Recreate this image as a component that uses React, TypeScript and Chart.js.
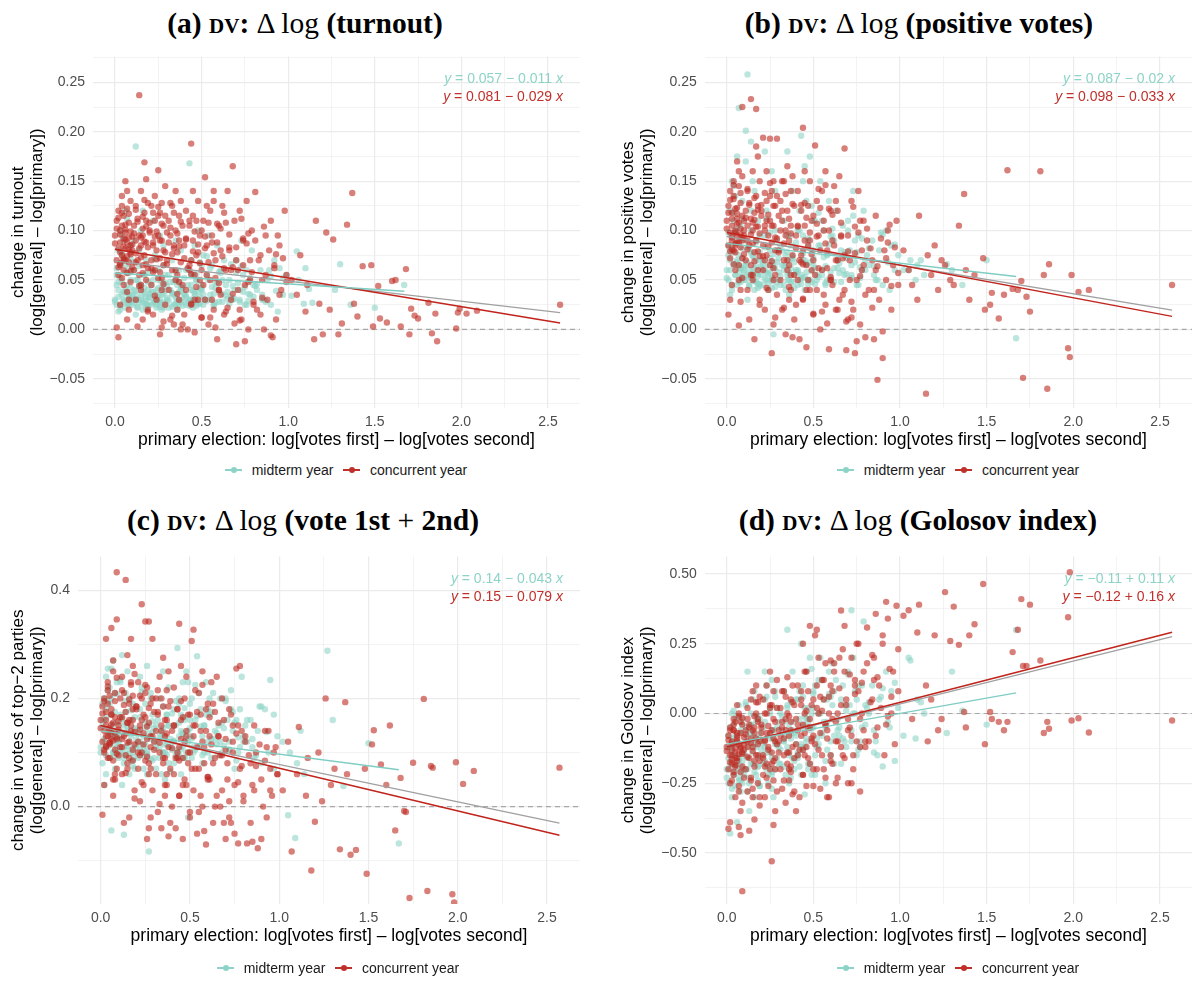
import React, { useEffect, useRef } from "react";
import { Chart, registerables } from "chart.js";

Chart.register(...registerables);

// ---------------- data ----------------
// x: primary election margin, log[votes first] - log[votes second]
const concurrentX = [
  0.00,0.01,0.01,0.02,0.02,0.02,0.03,0.03,0.03,0.04,
  0.04,0.04,0.05,0.05,0.05,0.05,0.06,0.06,0.06,0.06,
  0.07,0.07,0.07,0.07,0.08,0.08,0.08,0.08,0.09,0.09,
  0.09,0.09,0.01,0.02,0.03,0.04,0.05,0.07,0.08,0.10,
  0.10,0.11,0.11,0.12,0.12,0.12,0.13,0.13,0.14,0.14,
  0.14,0.15,0.15,0.15,0.16,0.16,0.16,0.17,0.17,0.17,
  0.18,0.18,0.18,0.19,0.19,0.19,0.20,0.13,0.15,0.18,
  0.20,0.21,0.21,0.21,0.22,0.22,0.23,0.23,0.23,0.24,
  0.24,0.25,0.25,0.25,0.26,0.26,0.26,0.27,0.27,0.27,
  0.28,0.28,0.28,0.29,0.29,0.29,0.30,0.22,0.25,0.27,
  0.30,0.31,0.31,0.32,0.32,0.33,0.33,0.34,0.34,0.35,
  0.35,0.35,0.36,0.36,0.37,0.37,0.37,0.38,0.38,0.38,
  0.39,0.39,0.40,0.34,0.36,
  0.40,0.41,0.41,0.42,0.43,0.43,0.44,0.44,0.45,0.45,
  0.46,0.46,0.47,0.47,0.48,0.48,0.49,0.49,0.50,0.44,
  0.50,0.51,0.52,0.52,0.53,0.54,0.55,0.55,0.56,0.57,
  0.57,0.58,0.59,0.60,0.60,0.61,0.62,0.63,0.64,0.65,
  0.66,0.67,0.68,0.69,0.70,0.71,0.72,0.73,0.74,0.75,
  0.76,0.77,0.78,0.79,0.80,
  0.81,0.82,0.84,0.85,0.86,0.87,0.88,0.90,0.91,0.92,
  0.93,0.95,0.96,0.98,0.99,
  1.02,1.05,1.07,1.10,1.11,1.15,1.16,1.18,1.20,1.22,
  1.24,1.26,1.29,1.31,1.34,1.37,1.38,1.40,1.43,1.48,
  1.49,1.52,1.53,1.57,1.60,1.62,1.65,1.68,1.70,1.71,
  1.73,1.75,1.81,1.83,1.85,1.86,1.97,1.98,1.99,2.03,
  2.09,2.57,
  0.00,0.01,0.02,0.02,0.03,0.03,0.04,0.04,0.05,0.05,
  0.06,0.06,0.07,0.07,0.08,0.08,0.09,0.09,0.10,0.03,
  0.06,0.09,0.10,0.11,0.12,0.12,0.13,0.14,0.14,0.15,
  0.15,0.16,0.16,0.17,0.17,0.18,0.18,0.19,0.19,0.20,
  0.12,0.16,0.21,0.22,0.22,0.23,0.24,0.24,0.25,0.26,
  0.26,0.27,0.28,0.28,0.29,0.30,0.23,0.27,0.31,0.32,
  0.33,0.33,0.34,0.35,0.36,0.36,0.37,0.38,0.39,0.40,
  0.32,0.37,0.41,0.42,0.43,0.44,0.45,0.46,0.47,0.48,
  0.49,0.50,0.52,0.53,0.54,0.56,0.57,0.58,0.59,0.60,
  0.61,0.63,0.64,0.66,0.68,0.70,0.72,0.74,0.77,0.79,
  0.41,0.43,0.45,0.46,0.48,0.50,0.51,0.53,0.54,0.55,
  0.56,0.58,0.59,0.61,0.62,0.63,0.65,0.66,0.67,0.69,
  0.70,0.71,0.73,0.74,0.75,0.77,0.78,0.80,0.81,0.83,
  0.84,0.86,0.87,0.89,0.90,0.92,0.94,0.95,0.97,0.99,
  0.44,0.52,0.57,0.60,0.64,0.68,0.72,0.76,0.85,0.93,
];

const concurrentTurnout = [
  0.095,0.110,0.070,0.082,0.120,0.055,0.100,0.065,0.088,0.135,
  0.075,0.105,0.045,0.092,0.115,0.060,0.082,0.098,0.150,0.070,
  0.010,0.088,0.122,0.057,0.093,0.068,0.108,0.030,0.078,0.099,
  0.048,0.085,0.002,-0.008,0.025,0.118,0.072,0.140,0.020,0.063,
  0.080,0.105,0.060,0.125,0.090,0.030,0.070,0.112,0.237,0.055,
  0.095,0.140,0.040,0.085,0.010,0.102,0.065,0.118,0.075,0.169,
  0.050,0.152,0.088,0.020,0.128,0.062,0.098,0.003,0.045,0.110,
  0.100,0.070,0.125,0.045,0.088,0.015,0.110,0.060,0.135,0.080,
  0.030,0.095,0.161,0.052,0.072,0.118,-0.005,0.090,0.040,0.128,
  0.065,0.105,0.008,0.145,0.078,0.025,0.098,0.058,0.115,0.002,
  0.070,0.110,0.040,0.095,0.010,0.125,0.060,0.085,0.005,0.140,
  0.050,0.100,0.020,0.078,0.115,0.030,0.090,0.000,0.068,0.130,
  0.045,0.105,0.015,0.082,0.055,
  0.085,0.040,0.120,0.000,0.065,0.105,0.188,0.025,0.090,0.140,
  0.055,-0.003,0.110,0.075,0.030,0.130,0.050,0.095,0.012,0.070,
  0.060,0.110,0.154,0.030,0.085,0.005,0.120,0.050,0.095,0.020,
  0.140,0.070,-0.010,0.105,0.040,0.080,0.125,0.015,0.060,0.140,
  0.080,0.030,0.165,0.110,-0.015,0.060,0.120,0.010,0.090,0.045,
  0.130,0.000,0.070,0.100,0.025,
  0.139,0.020,0.075,0.050,0.000,0.095,0.030,0.110,-0.008,0.065,
  0.010,0.085,0.040,0.120,0.055,
  0.050,0.035,0.075,0.018,0.045,-0.010,0.110,0.026,-0.005,0.098,
  0.020,0.091,-0.005,0.006,0.106,0.138,0.026,0.013,0.064,0.065,
  0.003,0.044,0.011,0.007,0.049,0.050,0.003,0.061,-0.005,0.021,
  0.014,0.011,0.027,-0.004,0.016,-0.012,0.001,0.017,0.021,0.016,
  0.019,0.025,
  0.087,0.102,0.063,0.113,0.078,0.096,0.052,0.125,0.084,0.070,
  0.091,0.106,0.074,0.038,0.117,0.081,0.059,0.130,0.094,0.067,
  0.101,0.076,0.086,0.097,0.068,0.121,0.109,0.082,0.044,0.093,
  0.073,0.114,0.057,0.089,0.131,0.066,0.104,0.018,0.083,0.108,
  0.077,0.095,0.062,0.118,0.085,0.034,0.099,0.071,0.124,0.058,
  0.090,0.107,0.046,0.080,0.115,0.066,0.094,0.052,0.088,0.103,
  0.014,0.076,0.118,0.060,0.097,0.036,0.084,0.109,0.005,0.072,
  0.128,0.048,0.091,0.062,0.110,0.026,0.079,0.099,0.043,0.086,
  0.067,0.012,0.094,0.055,0.108,0.030,0.077,0.002,0.088,0.047,
  0.102,0.062,0.018,0.083,0.036,0.070,0.009,0.092,0.048,0.058,
  0.092,0.060,0.115,0.030,0.078,0.100,0.045,0.125,0.068,0.012,
  0.088,0.052,0.107,0.035,0.074,0.118,0.022,0.096,0.060,0.006,
  0.083,0.040,0.112,0.065,-0.012,0.097,0.050,0.028,0.090,0.070,
  0.015,0.104,0.055,0.080,-0.006,0.062,0.095,0.035,0.072,0.048,
  0.056,0.082,0.130,0.040,0.108,0.063,0.020,0.087,0.032,0.076,
];

const concurrentPositive = [
  0.110,0.125,0.085,0.098,0.140,0.072,0.118,0.090,0.105,0.150,
  0.080,0.132,0.060,0.100,0.122,0.078,0.095,0.112,0.170,0.088,
  0.004,0.108,0.145,0.065,0.102,0.083,0.128,0.040,0.093,0.115,
  0.052,0.225,0.015,0.030,0.045,0.135,0.087,0.160,0.028,0.076,
  0.095,0.120,0.070,0.140,0.105,0.040,0.085,0.128,0.233,0.065,
  0.112,0.160,0.050,0.100,-0.010,0.118,0.078,0.135,0.090,0.223,
  0.060,0.175,0.104,0.030,0.150,0.074,0.115,0.010,0.055,0.125,
  0.120,0.085,0.194,0.060,0.105,0.020,0.130,0.075,0.160,0.095,
  0.040,0.110,0.193,0.065,0.088,0.140,-0.024,0.105,0.050,0.150,
  0.080,0.125,0.012,0.193,0.092,0.035,0.115,0.070,0.135,0.005,
  0.080,0.130,0.050,0.110,0.020,0.150,0.070,0.100,-0.005,0.165,
  0.060,0.120,0.030,0.090,0.140,0.040,0.105,-0.008,0.075,0.155,
  0.055,0.125,0.025,0.095,0.065,
  0.095,0.050,0.140,-0.010,0.075,0.120,0.204,0.030,0.105,0.160,
  0.065,-0.018,0.125,0.085,0.040,0.150,0.060,0.110,0.015,0.080,
  0.070,0.186,0.130,0.040,0.095,0.000,0.140,0.060,0.110,0.025,
  0.160,0.080,-0.020,0.120,0.050,0.090,0.145,0.020,0.070,0.155,
  0.095,0.035,0.183,-0.021,0.010,0.070,0.130,0.020,-0.024,0.050,
  0.140,0.005,0.080,0.110,-0.008,
  0.090,0.040,0.070,-0.010,0.060,-0.051,0.030,-0.029,0.080,0.050,
  0.100,0.020,0.065,0.110,0.045,
  0.080,0.060,0.045,0.030,0.115,-0.065,0.075,0.055,0.085,0.040,
  0.070,0.065,0.050,0.045,0.105,0.137,0.060,0.030,0.055,0.072,
  0.020,0.025,0.037,0.011,0.035,0.161,0.041,0.040,0.049,-0.049,
  0.033,0.018,0.160,0.055,-0.060,0.066,-0.019,-0.028,0.055,0.038,
  0.040,0.045,
  0.102,0.118,0.079,0.131,0.093,0.112,0.066,0.146,0.098,0.085,
  0.107,0.123,0.088,0.050,0.138,0.096,0.072,0.155,0.110,0.081,
  0.117,0.090,0.100,0.113,0.081,0.142,0.126,0.096,0.055,0.108,
  0.087,0.133,0.069,0.104,0.185,0.079,0.121,0.025,0.097,0.126,
  0.090,0.111,0.074,0.138,0.100,0.042,0.116,0.084,0.148,0.069,
  0.105,0.125,0.055,0.093,0.135,0.078,0.110,0.062,0.100,0.120,
  0.022,0.087,0.137,0.070,0.112,0.043,0.097,0.127,0.010,0.082,
  0.150,0.055,0.104,0.070,0.126,0.031,0.090,0.113,0.050,0.098,
  0.076,0.016,0.107,0.062,0.123,0.035,0.087,0.006,0.100,0.053,
  0.116,0.070,0.020,0.094,0.040,0.079,0.012,0.104,0.054,0.065,
  0.105,0.068,0.128,0.040,0.090,0.115,0.055,0.142,0.080,0.018,
  0.100,0.062,0.122,0.045,0.085,0.130,0.030,0.108,0.072,0.008,
  0.095,0.050,0.124,0.077,-0.012,0.110,0.060,0.035,0.102,0.082,
  0.022,0.115,0.064,0.092,-0.002,0.072,0.106,0.044,0.083,0.057,
  0.066,0.094,0.146,0.050,0.120,0.075,0.028,0.098,0.040,0.088,
];

const concurrentTop2 = [
  0.160,0.185,0.120,0.140,0.200,0.100,0.175,0.110,0.150,0.230,
  0.130,0.190,0.090,0.145,0.205,0.115,0.135,0.170,0.330,0.125,
  0.020,0.155,0.250,0.085,0.165,0.105,0.195,0.060,0.128,0.433,
  0.070,0.346,-0.015,0.040,0.310,0.215,0.118,0.270,0.050,0.095,
  0.150,0.200,0.110,0.240,0.165,0.060,0.130,0.210,0.419,0.095,
  0.175,0.280,0.070,0.155,-0.020,0.190,0.120,0.225,0.140,0.310,
  0.085,0.260,0.160,0.030,0.245,0.115,0.185,-0.030,0.080,0.205,
  0.180,0.120,0.230,0.070,0.150,0.010,0.200,0.100,0.374,0.135,
  0.040,0.165,0.342,0.085,0.125,0.220,-0.060,0.155,0.060,0.342,
  0.110,0.190,-0.020,0.310,0.130,0.030,0.175,0.095,0.210,-0.040,
  0.120,0.200,0.060,0.170,-0.010,0.240,0.100,0.150,-0.040,0.275,
  0.080,0.185,0.020,0.130,0.215,0.040,0.160,-0.055,0.110,0.250,
  0.070,0.195,0.000,0.140,0.090,
  0.140,0.060,0.220,-0.040,0.100,0.180,0.338,0.020,0.160,0.260,
  0.090,-0.060,0.200,0.120,0.040,0.240,0.080,0.170,-0.010,0.110,
  0.100,0.306,0.327,0.030,0.150,-0.050,0.210,0.070,0.170,0.000,
  0.250,0.110,-0.070,0.190,0.050,0.130,0.230,-0.030,0.090,0.240,
  0.130,0.000,0.200,0.160,-0.060,0.080,0.180,-0.030,0.120,0.040,
  0.255,-0.068,0.260,0.140,0.010,
  0.120,-0.068,0.080,-0.065,0.030,0.100,-0.077,0.050,0.000,0.140,
  -0.020,0.070,0.020,0.110,0.060,
  0.030,0.120,-0.083,0.060,0.147,0.020,0.090,-0.118,-0.028,0.100,
  0.010,0.200,0.040,0.070,-0.079,0.193,0.060,-0.089,-0.080,0.070,
  -0.124,0.115,0.141,0.078,0.040,0.150,-0.044,0.053,-0.008,-0.010,
  -0.169,0.081,0.199,-0.156,0.075,0.072,-0.162,-0.177,0.082,0.042,
  0.066,0.072,
  0.145,0.172,0.105,0.195,0.130,0.160,0.090,0.222,0.140,0.118,
  0.152,0.180,0.122,0.050,0.210,0.137,0.098,0.238,0.158,0.112,
  0.170,0.125,0.142,0.165,0.110,0.215,0.188,0.135,0.062,0.155,
  0.118,0.198,0.090,0.150,0.230,0.105,0.180,0.015,0.138,0.185,
  0.125,0.160,0.100,0.205,0.142,0.045,0.170,0.115,0.225,0.092,
  0.148,0.182,0.070,0.130,0.200,0.105,0.160,0.080,0.140,0.175,
  0.005,0.118,0.200,0.090,0.160,0.040,0.135,0.185,-0.030,0.108,
  0.215,0.060,0.150,0.090,0.180,0.020,0.125,0.165,0.050,0.140,
  0.100,-0.020,0.150,0.070,0.175,0.020,0.120,-0.045,0.140,0.055,
  0.165,0.080,0.000,0.130,0.030,0.105,-0.020,0.150,0.045,0.075,
  0.150,0.090,0.195,0.040,0.130,0.170,0.070,0.215,0.110,-0.010,
  0.140,0.080,0.180,0.050,0.115,0.190,0.020,0.155,0.095,-0.030,
  0.125,0.050,0.170,0.100,-0.050,0.150,0.070,0.020,0.130,0.095,
  -0.030,0.150,0.075,0.115,-0.060,0.085,0.140,0.030,0.100,0.060,
  0.085,0.130,0.225,0.055,0.175,0.095,0.010,0.135,0.040,0.110,
];

const concurrentGolosov = [
  -0.120,-0.080,-0.200,-0.150,-0.050,-0.250,-0.100,-0.180,-0.130,-0.020,
  -0.220,-0.060,-0.300,-0.140,-0.030,-0.190,-0.160,-0.090,0.030,-0.170,
  -0.407,-0.110,-0.010,-0.280,-0.125,-0.210,-0.070,-0.350,-0.145,-0.637,
  -0.320,-0.040,-0.413,-0.390,-0.240,-0.060,-0.185,0.000,-0.436,-0.230,
  -0.130,-0.060,-0.200,0.020,-0.100,-0.280,-0.160,-0.040,0.050,-0.230,
  -0.090,0.080,-0.300,-0.120,-0.380,-0.050,-0.190,0.000,-0.150,0.100,
  -0.250,0.040,-0.110,-0.330,0.060,-0.170,-0.070,-0.420,-0.270,-0.020,
  -0.050,-0.150,0.050,-0.220,-0.100,-0.300,0.000,-0.180,0.100,-0.120,
  -0.260,-0.070,0.150,-0.200,-0.140,0.030,-0.530,-0.090,-0.240,0.080,
  -0.160,-0.030,-0.350,0.120,-0.110,-0.280,-0.060,-0.190,0.020,-0.400,
  -0.100,0.020,-0.200,-0.050,-0.270,0.080,-0.150,-0.020,-0.320,0.130,
  -0.180,0.000,-0.240,-0.080,0.050,-0.210,-0.030,-0.290,-0.120,0.100,
  -0.160,0.030,-0.350,-0.060,-0.140,
  -0.020,-0.150,0.100,-0.300,-0.080,0.050,0.250,-0.220,0.000,0.150,
  -0.120,-0.260,0.080,-0.050,-0.180,0.314,-0.100,0.030,-0.200,-0.040,
  -0.080,0.280,0.300,-0.200,0.000,-0.270,0.120,-0.150,0.050,-0.230,
  0.180,-0.060,-0.300,0.100,-0.170,-0.020,0.150,-0.250,-0.100,0.200,
  0.369,-0.150,0.314,0.050,-0.250,-0.050,0.200,-0.200,0.100,-0.100,
  0.250,-0.280,0.000,0.150,-0.120,
  0.308,-0.100,0.050,0.200,0.357,-0.050,0.100,0.250,-0.150,0.400,
  0.340,0.000,0.150,0.386,0.080,
  0.350,0.370,-0.020,0.290,0.390,0.100,-0.100,0.050,0.280,-0.060,
  -0.020,0.435,0.260,0.383,0.246,0.005,-0.050,0.280,0.320,0.464,
  -0.110,0.005,-0.020,-0.030,-0.060,-0.030,0.220,0.300,0.410,0.170,
  0.170,0.390,0.190,-0.070,-0.030,-0.055,0.345,0.506,-0.025,-0.017,
  -0.068,-0.025,
  -0.135,-0.095,-0.175,-0.060,-0.150,-0.110,-0.210,-0.040,-0.125,-0.160,
  -0.100,-0.070,-0.145,-0.260,-0.030,-0.120,-0.190,-0.015,-0.085,-0.165,
  -0.080,-0.140,-0.110,-0.075,-0.155,-0.020,-0.050,-0.105,-0.240,-0.060,
  -0.135,-0.010,-0.170,-0.090,0.040,-0.150,-0.030,-0.300,-0.100,-0.040,
  -0.120,-0.070,-0.160,0.000,-0.095,-0.230,-0.045,-0.130,0.030,-0.180,
  -0.060,-0.020,-0.200,-0.100,0.020,-0.140,-0.070,-0.170,-0.080,-0.030,
  -0.240,-0.090,0.060,-0.140,-0.010,-0.200,-0.060,0.040,-0.280,-0.110,
  0.080,-0.190,-0.040,-0.130,0.030,-0.220,-0.070,0.010,-0.160,-0.050,
  -0.090,-0.260,0.020,-0.130,0.060,-0.200,-0.040,-0.300,0.000,-0.150,
  0.080,-0.100,-0.230,0.030,-0.160,-0.020,-0.250,0.120,-0.120,-0.060,
  -0.060,0.080,-0.150,0.150,-0.020,0.050,-0.110,0.200,-0.070,0.010,
  0.120,-0.090,0.060,-0.180,0.180,-0.030,0.090,-0.120,0.230,0.030,
  -0.060,0.140,-0.150,0.070,0.250,-0.020,0.110,-0.100,0.180,0.040,
  0.210,-0.080,0.130,0.020,0.280,-0.040,0.160,0.060,-0.110,0.230,
  -0.130,0.100,-0.040,0.190,0.000,0.150,-0.080,0.080,0.120,-0.010,
];

const midtermX = [
  0.00,0.01,0.01,0.02,0.02,0.03,0.03,0.03,0.04,0.04,
  0.05,0.05,0.05,0.06,0.06,0.06,0.07,0.07,0.07,0.08,
  0.08,0.08,0.09,0.09,0.09,0.10,0.02,0.04,0.06,0.08,
  0.10,0.11,0.11,0.12,0.12,0.13,0.13,0.13,0.14,0.14,
  0.15,0.15,0.15,0.16,0.16,0.17,0.17,0.17,0.18,0.18,
  0.19,0.19,0.20,0.11,0.13,0.14,0.16,0.18,0.19,0.12,
  0.20,0.21,0.21,0.22,0.22,0.23,0.23,0.24,0.24,0.25,
  0.25,0.26,0.26,0.27,0.27,0.28,0.28,0.29,0.29,0.30,
  0.22,0.24,0.26,0.28,0.27,
  0.30,0.31,0.31,0.32,0.33,0.33,0.34,0.34,0.35,0.35,
  0.36,0.36,0.37,0.37,0.38,0.38,0.39,0.39,0.40,0.35,
  0.40,0.41,0.41,0.42,0.43,0.43,0.44,0.44,0.45,0.45,
  0.46,0.46,0.47,0.47,0.48,0.48,0.49,0.49,0.50,0.44,
  0.50,0.51,0.52,0.53,0.54,0.55,0.56,0.57,0.58,0.59,
  0.60,0.61,0.62,0.63,0.64,
  0.66,0.68,0.70,0.72,0.73,0.75,0.76,0.78,0.79,0.80,
  0.82,0.84,0.86,0.88,0.90,0.92,0.94,0.95,0.97,0.99,
  1.05,1.06,1.09,1.10,1.14,1.27,1.30,1.36,1.50,1.67,
  0.00,0.01,0.01,0.02,0.03,0.03,0.04,0.05,0.05,0.06,
  0.06,0.07,0.08,0.08,0.09,0.10,0.02,0.04,0.07,0.09,
  0.10,0.11,0.12,0.12,0.13,0.14,0.15,0.15,0.16,0.17,
  0.17,0.18,0.19,0.19,0.20,0.11,0.14,0.18,0.21,0.22,
  0.22,0.23,0.24,0.25,0.25,0.26,0.27,0.28,0.29,0.30,
  0.23,0.26,0.29,0.31,0.32,0.33,0.34,0.35,0.36,0.37,
  0.38,0.39,0.40,0.33,0.36,0.41,0.42,0.43,0.44,0.45,
  0.46,0.47,0.48,0.49,0.50,0.43,0.47,0.51,0.53,0.55,
  0.56,0.58,0.60,0.62,0.54,0.57,0.65,0.67,0.69,0.71,
  0.72,0.74,0.77,0.81,0.85,0.89,0.93,0.97,1.02,1.12,
  0.35,0.38,0.41,0.44,0.47,0.50,0.52,0.55,0.57,0.60,
  0.62,0.64,0.66,0.68,0.70,0.72,0.74,0.76,0.78,0.80,
  0.37,0.42,0.46,0.49,0.53,0.58,0.61,0.65,0.69,0.73,
  0.77,0.82,0.85,0.87,0.90,0.45,0.51,0.59,0.67,0.75,
];

const midtermTurnout = [
  0.030,0.055,0.025,0.080,0.040,0.065,0.020,0.100,0.035,0.048,
  0.028,0.070,0.090,0.038,0.022,0.058,0.045,0.030,0.112,0.033,
  0.062,0.025,0.042,0.085,0.050,0.035,0.018,0.075,0.120,0.027,
  0.025,0.040,0.060,0.030,0.185,0.035,0.050,0.022,0.080,0.028,
  0.045,0.032,0.100,0.038,0.020,0.055,0.027,0.042,0.070,0.033,
  0.048,0.024,0.036,0.090,0.030,0.043,0.120,0.026,0.058,0.015,
  0.032,0.045,0.025,0.060,0.038,0.028,0.075,0.040,0.022,0.050,
  0.035,0.095,0.030,0.042,0.020,0.065,0.036,0.027,0.055,0.044,
  0.110,0.033,0.023,0.085,0.048,
  0.030,0.055,0.022,0.040,0.070,0.035,0.025,0.048,0.090,0.032,
  0.045,0.020,0.060,0.038,0.028,0.080,0.042,0.024,0.036,0.050,
  0.035,0.060,0.025,0.045,0.168,0.030,0.070,0.040,0.022,0.055,
  0.033,0.085,0.028,0.050,0.038,0.100,0.026,0.042,0.065,0.030,
  0.040,0.075,0.030,0.055,0.095,0.035,0.065,0.025,0.048,0.085,
  0.038,0.060,0.028,0.070,0.045,
  0.050,0.030,0.070,0.040,0.090,0.025,0.060,0.035,0.080,0.045,
  0.040,0.060,0.030,0.050,0.025,0.070,0.018,0.062,0.035,0.055,
  0.079,0.050,0.026,0.062,0.027,0.040,0.066,0.025,0.022,0.045,
  0.028,0.045,0.062,0.033,0.052,0.024,0.078,0.038,0.030,0.066,
  0.041,0.026,0.057,0.035,0.072,0.031,0.048,0.095,0.037,0.029,
  0.034,0.027,0.050,0.039,0.023,0.064,0.030,0.044,0.026,0.036,
  0.055,0.029,0.040,0.024,0.033,0.068,0.046,0.021,0.038,0.027,
  0.050,0.031,0.025,0.042,0.060,0.028,0.035,0.022,0.047,0.032,
  0.071,0.026,0.039,0.029,0.048,0.023,0.036,0.058,0.031,0.025,
  0.043,0.030,0.052,0.037,0.027,0.034,0.061,0.024,0.045,0.029,
  0.038,0.056,0.026,0.033,0.041,0.028,0.049,0.035,0.074,0.030,
  0.043,0.027,0.058,0.036,0.050,0.024,0.038,0.066,0.031,0.047,
  0.028,0.055,0.036,0.044,0.030,0.060,0.039,0.052,0.034,0.041,
  0.026,0.040,0.032,0.055,0.024,0.045,0.030,0.062,0.036,0.028,
  0.050,0.034,0.026,0.044,0.058,0.030,0.038,0.025,0.052,0.033,
  0.048,0.027,0.036,0.068,0.029,0.042,0.057,0.031,0.040,0.064,
  0.029,0.046,0.035,0.028,0.054,0.039,0.025,0.047,0.033,0.043,
];

const midtermPositive = [
  0.060,0.085,0.050,0.120,0.070,0.095,0.040,0.150,0.065,0.078,
  0.055,0.100,0.135,0.068,0.045,0.090,0.075,0.058,0.224,0.062,
  0.105,0.048,0.072,0.130,0.082,0.064,0.035,0.110,0.175,0.052,
  0.050,0.065,0.090,0.055,0.258,0.060,0.080,0.045,0.120,0.052,
  0.075,0.058,0.150,0.062,0.040,0.088,0.048,0.070,0.110,0.056,
  0.078,0.044,0.064,0.201,0.054,0.190,0.140,0.046,0.095,0.030,
  0.055,0.070,0.045,0.095,0.060,0.050,0.120,0.065,0.040,0.080,
  0.058,0.160,0.052,0.068,-0.005,0.100,0.062,0.048,0.090,0.072,
  0.180,0.056,0.042,0.140,0.076,
  0.050,0.085,0.045,0.065,0.110,0.060,0.040,0.075,0.180,0.055,
  0.070,0.035,0.095,0.062,0.048,0.140,0.068,0.042,0.058,0.078,
  0.060,0.100,0.045,0.120,0.196,0.055,0.150,0.070,0.040,0.165,
  0.058,0.130,0.050,0.090,0.068,0.175,0.048,0.080,0.110,0.052,
  0.065,0.110,0.050,0.085,0.150,0.060,0.100,0.045,0.075,0.130,
  0.058,0.095,0.048,0.120,0.070,
  0.080,0.055,0.110,0.065,0.140,0.045,0.095,0.060,0.120,0.070,
  0.065,0.090,0.050,0.080,0.045,0.100,0.040,0.085,0.060,0.075,
  0.060,0.070,0.050,0.065,0.055,0.066,0.060,0.045,0.070,-0.009,
  0.052,0.075,0.098,0.060,0.085,0.045,0.118,0.066,0.055,0.102,
  0.070,0.048,0.090,0.062,0.112,0.058,0.080,0.145,0.065,0.053,
  0.060,0.050,0.083,0.068,0.044,0.100,0.056,0.074,0.049,0.064,
  0.090,0.054,0.070,0.046,0.061,0.170,0.078,0.042,0.066,0.051,
  0.083,0.057,0.047,0.072,0.098,0.052,0.063,0.043,0.080,0.058,
  0.112,0.049,0.068,0.054,0.080,0.045,0.064,0.095,0.057,0.048,
  0.074,0.055,0.088,0.065,0.050,0.060,0.100,0.046,0.077,0.053,
  0.066,0.092,0.050,0.059,0.072,0.052,0.084,0.062,0.118,0.055,
  0.073,0.050,0.094,0.062,0.085,0.047,0.067,0.105,0.056,0.080,
  0.052,0.090,0.063,0.075,0.055,0.098,0.068,0.086,0.060,0.070,
  0.050,0.072,0.058,0.095,0.046,0.080,0.055,0.110,0.064,0.052,
  0.090,0.062,0.048,0.078,0.100,0.055,0.068,0.045,0.092,0.060,
  0.085,0.050,0.066,0.125,0.053,0.076,0.102,0.057,0.072,0.115,
  0.052,0.082,0.064,0.050,0.096,0.070,0.046,0.086,0.060,0.078,
];

const midtermTop2 = [
  0.100,0.160,0.080,0.200,0.120,0.180,0.060,0.240,0.110,0.140,
  0.090,0.190,0.220,0.130,-0.044,0.170,0.150,0.100,0.270,0.115,
  0.210,0.070,0.135,0.230,0.155,0.125,0.040,0.195,0.255,0.095,
  0.090,0.130,0.170,0.100,0.280,0.110,0.150,0.080,0.210,0.095,
  0.140,0.105,0.250,0.120,0.060,0.160,0.085,0.135,0.190,0.100,
  0.145,0.070,0.115,0.230,-0.052,0.175,0.200,0.075,0.165,0.040,
  0.110,0.140,0.090,0.180,0.120,0.100,0.220,0.130,0.070,0.155,
  0.115,0.260,0.095,0.135,-0.083,0.200,0.125,0.085,0.170,0.145,
  0.240,0.105,0.060,0.210,0.150,
  0.090,0.150,0.070,0.120,0.200,0.110,0.060,0.140,0.250,0.100,
  0.130,0.050,0.170,0.115,0.080,0.220,0.125,0.065,0.105,0.145,
  0.120,0.180,0.080,0.150,0.293,0.100,0.200,0.130,0.060,0.170,
  0.110,0.230,0.090,0.160,0.125,0.250,-0.020,0.140,0.190,0.095,
  0.130,0.200,0.100,0.160,0.278,0.110,0.180,0.080,0.150,0.230,
  0.120,0.170,0.090,0.210,0.140,
  0.150,0.100,0.200,0.120,0.180,0.070,0.160,0.110,0.240,0.130,
  0.120,0.160,0.090,0.140,0.080,0.180,0.100,0.234,0.070,0.130,
  -0.016,0.100,-0.058,0.080,0.060,0.288,0.160,0.038,0.117,-0.068,
  0.110,0.150,0.190,0.125,0.165,0.095,0.215,0.135,0.115,0.200,
  0.140,0.100,0.175,0.128,0.208,0.118,0.160,0.255,0.132,0.108,
  0.122,0.102,0.162,0.138,0.090,0.195,0.112,0.148,0.098,0.130,
  0.178,0.108,0.142,0.092,0.124,0.235,0.155,0.085,0.135,0.105,
  0.165,0.115,0.095,0.145,0.190,0.104,0.128,0.088,0.158,0.118,
  0.212,0.098,0.138,0.108,0.160,0.090,0.130,0.185,0.115,0.096,
  0.150,0.110,0.172,0.132,0.100,0.122,0.195,0.092,0.155,0.106,
  0.135,0.182,0.100,0.120,0.145,0.105,0.165,0.126,0.225,0.110,
  0.148,0.100,0.180,0.125,0.168,0.095,0.136,0.200,0.112,0.160,
  0.105,0.175,0.128,0.150,0.110,0.185,0.138,0.170,0.120,0.140,
  0.100,0.150,0.120,0.190,0.090,0.160,0.110,0.210,0.130,0.100,
  0.175,0.125,0.095,0.155,0.195,0.105,0.140,0.085,0.180,0.120,
  0.170,0.095,0.135,0.230,0.105,0.150,0.200,0.115,0.145,0.215,
  0.100,0.160,0.125,0.095,0.185,0.140,0.090,0.170,0.120,0.155,
];

const midtermGolosov = [
  -0.200,-0.120,-0.250,-0.050,-0.180,-0.100,-0.300,0.000,-0.220,-0.150,
  -0.260,-0.080,-0.020,-0.190,-0.390,-0.110,-0.160,-0.230,0.030,-0.210,
  -0.070,-0.280,-0.170,-0.040,-0.130,-0.200,-0.430,-0.090,-0.010,-0.240,
  -0.150,-0.100,-0.050,-0.200,0.150,-0.120,-0.060,-0.250,0.000,-0.180,
  -0.080,-0.140,0.050,-0.110,-0.300,-0.030,-0.220,-0.090,-0.010,-0.160,
  -0.070,-0.260,-0.130,0.030,-0.350,-0.040,0.080,-0.190,-0.020,-0.280,
  -0.100,-0.050,-0.180,0.050,-0.120,-0.200,0.100,-0.080,-0.250,0.000,
  -0.140,0.120,-0.220,-0.060,-0.300,0.080,-0.110,-0.160,0.020,-0.030,
  0.150,-0.190,-0.270,0.060,-0.090,
  -0.120,0.000,-0.180,-0.060,0.080,-0.100,-0.220,-0.030,0.300,-0.140,
  -0.050,-0.250,0.040,-0.090,-0.160,0.150,-0.070,-0.200,-0.110,0.020,
  -0.080,0.050,-0.150,-0.020,0.250,-0.120,0.100,-0.050,-0.290,0.020,
  -0.100,0.150,-0.180,-0.030,-0.060,0.200,-0.220,0.000,0.080,-0.130,
  -0.050,0.100,-0.120,0.000,0.200,-0.080,0.050,-0.250,-0.030,0.150,
  -0.100,0.030,-0.180,0.120,-0.020,
  0.050,-0.100,0.150,0.370,0.000,-0.150,0.100,-0.050,0.330,0.030,
  0.000,0.100,-0.100,0.050,-0.190,0.150,-0.050,0.080,-0.170,0.020,
  0.200,0.190,-0.090,0.050,0.000,-0.070,0.150,0.010,-0.040,0.299,
  -0.230,-0.160,-0.080,-0.200,-0.120,-0.270,-0.040,-0.180,-0.210,-0.100,
  -0.150,-0.240,-0.060,-0.190,-0.020,-0.220,-0.130,0.010,-0.170,-0.250,
  -0.140,-0.200,-0.080,-0.160,-0.230,-0.040,-0.180,-0.100,-0.210,-0.120,
  -0.010,-0.190,-0.090,-0.260,-0.150,0.040,-0.070,-0.240,-0.110,-0.170,
  -0.030,-0.140,-0.220,-0.090,0.020,-0.160,-0.060,-0.200,-0.110,-0.180,
  0.060,-0.210,-0.050,-0.130,-0.010,-0.190,-0.080,0.030,-0.150,-0.230,
  -0.060,-0.170,0.050,-0.100,-0.200,-0.140,0.080,-0.220,-0.040,-0.120,
  -0.090,0.020,-0.180,-0.050,0.070,-0.110,-0.020,-0.150,0.120,-0.070,
  -0.030,-0.130,0.060,-0.080,0.000,-0.170,-0.050,0.100,-0.120,0.030,
  -0.060,0.080,-0.100,0.020,-0.140,0.060,-0.030,0.110,-0.080,0.040,
  -0.120,-0.030,-0.160,0.060,-0.200,0.020,-0.090,0.120,-0.050,-0.150,
  0.080,-0.060,-0.180,0.030,0.140,-0.100,0.000,-0.130,0.100,-0.040,
  -0.070,-0.190,-0.020,0.160,-0.110,0.050,0.180,-0.080,0.010,0.200,
  -0.120,0.040,-0.060,-0.150,0.090,-0.010,-0.220,0.070,-0.090,0.050,
];

// fitted lines: [intercept, slope]
const turnoutMidCoef = [0.057, -0.011];
const turnoutConCoef = [0.081, -0.029];
const turnoutAllCoef = [0.069, -0.0202];
const positiveMidCoef = [0.087, -0.02];
const positiveConCoef = [0.098, -0.033];
const positiveAllCoef = [0.094, -0.029];
const top2MidCoef = [0.14, -0.043];
const top2ConCoef = [0.15, -0.079];
const top2AllCoef = [0.147, -0.069];
const golosovMidCoef = [-0.11, 0.11];
const golosovConCoef = [-0.12, 0.16];
const golosovAllCoef = [-0.12, 0.154];

// ticks
const xMajorTicks = [0, 0.5, 1, 1.5, 2, 2.5];
const xMinorTicks = [0.25, 0.75, 1.25, 1.75, 2.25];
const yMajorTicksAB = [-0.05, 0, 0.05, 0.1, 0.15, 0.2, 0.25];
const yMinorTicksAB = [-0.075, -0.025, 0.025, 0.075, 0.125, 0.175, 0.225, 0.275];
const yMajorTicksC = [0, 0.2, 0.4];
const yMinorTicksC = [-0.1, 0.1, 0.3];
const yMajorTicksD = [-0.5, -0.25, 0, 0.25, 0.5];
const yMinorTicksD = [-0.625, -0.375, -0.125, 0.125, 0.375];

const legendLabels = ["midterm year", "concurrent year"];
const xTitle = "primary election: log[votes first] \u2013 log[votes second]";

// ---------------- styles ----------------
const SANS = "'Liberation Sans', Arial, Helvetica, sans-serif";
const SERIF = "'Liberation Serif', 'Times New Roman', serif";
const TEAL = "#8DD3C7";
const TEAL_PT = "rgba(141,211,199,0.6)";
const TEAL_LINE = "#7ECDC2";
const RED = "#C0302A";
const RED_PT = "rgba(190,42,34,0.6)";
const RED_LINE = "#C0241C";
const GRAY_LINE = "#A0A0A0";
const GRID = "#EBEBEB";
const TICK = "#4D4D4D";

const X_MIN = -0.127;
const X_MAX = 2.685;
const X_AXIS_H = 43;

type Panel = any;

const panels: Panel[] = [
  {
    letter: "(a)",
    dv: [["(turnout)", true]],
    yTitle: ["change in turnout", "(log[general] \u2013 log[primary])"],
    mid: midtermTurnout, con: concurrentTurnout,
    midCoef: turnoutMidCoef, conCoef: turnoutConCoef, allCoef: turnoutAllCoef,
    yMin: -0.0795, yMax: 0.2762, yMajor: yMajorTicksAB, yMinor: yMinorTicksAB, dec: 2,
    canvas: { left: 0, top: 40, width: 599, height: 420 },
    area: { left: 93, right: 580, top: 10, bottom: 368 },
    titleCenter: 305, titleY: 23, legendLeft: 225, legendY: 470,
  },
  {
    letter: "(b)",
    dv: [["(positive votes)", true]],
    yTitle: ["change in positive votes", "(log[general] \u2013 log[primary])"],
    mid: midtermPositive, con: concurrentPositive,
    midCoef: positiveMidCoef, conCoef: positiveConCoef, allCoef: positiveAllCoef,
    yMin: -0.0795, yMax: 0.2762, yMajor: yMajorTicksAB, yMinor: yMinorTicksAB, dec: 2,
    canvas: { left: 610, top: 40, width: 588, height: 420 },
    area: { left: 94.7, right: 582, top: 10, bottom: 368 },
    titleCenter: 919, titleY: 23, legendLeft: 837, legendY: 470,
  },
  {
    letter: "(c)",
    dv: [["(vote 1st ", true], ["+", false], [" 2nd)", true]],
    yTitle: ["change in votes of top\u22122 parties", "(log[general] \u2013 log[primary])"],
    mid: midtermTop2, con: concurrentTop2,
    midCoef: top2MidCoef, conCoef: top2ConCoef, allCoef: top2AllCoef,
    yMin: -0.18, yMax: 0.4624, yMajor: yMajorTicksC, yMinor: yMinorTicksC, dec: 1,
    canvas: { left: 0, top: 540, width: 599, height: 420 },
    area: { left: 78, right: 580, top: 7, bottom: 364 },
    titleCenter: 303, titleY: 520, legendLeft: 217, legendY: 968,
  },
  {
    letter: "(d)",
    dv: [["(Golosov index)", true]],
    yTitle: ["change in Golosov index", "(log[general] \u2013 log[primary])"],
    mid: midtermGolosov, con: concurrentGolosov,
    midCoef: golosovMidCoef, conCoef: golosovConCoef, allCoef: golosovAllCoef,
    yMin: -0.683, yMax: 0.563, yMajor: yMajorTicksD, yMinor: yMinorTicksD, dec: 2,
    canvas: { left: 610, top: 540, width: 588, height: 420 },
    area: { left: 94.7, right: 582, top: 7, bottom: 364 },
    titleCenter: 918, titleY: 520, legendLeft: 837, legendY: 968,
  },
];

function fmt(v: number, d: number) {
  const s = Math.abs(v).toFixed(d);
  return (v < -1e-12 ? "\u2212" : "") + s;
}
function isIn(arr: number[], v: number) {
  return arr.some((m) => Math.abs(m - v) < 1e-9);
}
function coefMiddle(c: number[]) {
  const a = c[0], b = c[1];
  return ` = ${a < 0 ? "\u2212" : ""}${Math.abs(a)} ${b < 0 ? "\u2212" : "+"} ${Math.abs(b)} `;
}

function PanelChart({ p }: { p: Panel }) {
  const ref = useRef<HTMLCanvasElement>(null);
  useEffect(() => {
    const canvas = ref.current as HTMLCanvasElement;
    const n1 = Math.min(p.mid.length, midtermX.length);
    const n2 = Math.min(p.con.length, concurrentX.length);
    const mid = midtermX.slice(0, n1).map((x: number, i: number) => ({ x, y: p.mid[i] }));
    const con = concurrentX.slice(0, n2).map((x: number, i: number) => ({ x, y: p.con[i] }));
    const midMin = Math.min(...midtermX), midMax = Math.max(...midtermX);
    const conMin = Math.min(...concurrentX), conMax = Math.max(...concurrentX);
    const allMin = Math.min(midMin, conMin), allMax = Math.max(midMax, conMax);
    const fit = (c: number[], x0: number, x1: number) => [
      { x: x0, y: c[0] + c[1] * x0 },
      { x: x1, y: c[0] + c[1] * x1 },
    ];
    const xTicks = [...xMajorTicks, ...xMinorTicks].sort((a, b) => a - b);
    const yTicks = [...p.yMajor, ...p.yMinor].sort((a: number, b: number) => a - b);

    const overlay = {
      id: "overlay",
      beforeDatasetsDraw(chart: any) {
        const { ctx, chartArea, scales } = chart;
        const y0 = scales.y.getPixelForValue(0);
        ctx.save();
        ctx.strokeStyle = "#A8A8A8";
        ctx.lineWidth = 1.1;
        ctx.setLineDash([5, 4]);
        ctx.beginPath();
        ctx.moveTo(chartArea.left, y0);
        ctx.lineTo(chartArea.right, y0);
        ctx.stroke();
        ctx.restore();
      },
      afterDatasetsDraw(chart: any) {
        const { ctx, chartArea } = chart;
        const drawEq = (c: number[], color: string, yy: number) => {
          const parts: [string, boolean][] = [["y", true], [coefMiddle(c), false], ["x", true]];
          const fonts = parts.map((pt) => (pt[1] ? `italic 14px ${SANS}` : `14px ${SANS}`));
          let total = 0;
          const widths = parts.map((pt, i) => {
            ctx.font = fonts[i];
            const w = ctx.measureText(pt[0]).width;
            total += w;
            return w;
          });
          let x = chartArea.right - 17 - total;
          ctx.save();
          ctx.fillStyle = color;
          ctx.textBaseline = "middle";
          ctx.textAlign = "left";
          parts.forEach((pt, i) => {
            ctx.font = fonts[i];
            ctx.fillText(pt[0], x, yy);
            x += widths[i];
          });
          ctx.restore();
        };
        drawEq(p.midCoef, TEAL, chartArea.top + 23);
        drawEq(p.conCoef, RED, chartArea.top + 41);
      },
    };

    const chart = new Chart(canvas, {
      type: "scatter",
      data: {
        datasets: [
          {
            label: "midterm fit", type: "line", data: fit(p.midCoef, midMin, midMax),
            borderColor: TEAL_LINE, borderWidth: 1.4, pointRadius: 0, showLine: true, fill: false, order: 0,
          },
          {
            label: "concurrent fit", type: "line", data: fit(p.conCoef, conMin, conMax),
            borderColor: RED_LINE, borderWidth: 1.5, pointRadius: 0, showLine: true, fill: false, order: 0,
          },
          {
            label: "all fit", type: "line", data: fit(p.allCoef, allMin, allMax),
            borderColor: GRAY_LINE, borderWidth: 1.3, pointRadius: 0, showLine: true, fill: false, order: 0,
          },
          {
            label: legendLabels[1], data: con, backgroundColor: RED_PT, borderWidth: 0,
            pointRadius: 3.2, order: 1,
          },
          {
            label: legendLabels[0], data: mid, backgroundColor: TEAL_PT, borderWidth: 0,
            pointRadius: 3.2, order: 2,
          },
        ],
      } as any,
      options: {
        responsive: false,
        maintainAspectRatio: false,
        animation: false,
        devicePixelRatio: 1,
        events: [],
        layout: {
          padding: {
            left: 0,
            top: p.area.top,
            right: p.canvas.width - p.area.right,
            bottom: p.canvas.height - p.area.bottom - X_AXIS_H,
          },
        },
        plugins: { legend: { display: false }, tooltip: { enabled: false }, title: { display: false } },
        scales: {
          x: {
            type: "linear",
            min: X_MIN,
            max: X_MAX,
            afterBuildTicks: (s: any) => { s.ticks = xTicks.map((v) => ({ value: v })); },
            afterFit: (s: any) => { s.height = X_AXIS_H; },
            grid: {
              color: GRID,
              lineWidth: (c: any) => (c.tick && isIn(xMajorTicks, c.tick.value) ? 1.2 : 0.6),
              drawTicks: false,
            },
            border: { display: false },
            ticks: {
              autoSkip: false, maxRotation: 0, padding: 6, color: TICK,
              font: { family: SANS, size: 14 },
              callback: (v: any) => (isIn(xMajorTicks, Number(v)) ? fmt(Number(v), 1) : ""),
            },
            title: {
              display: true, text: xTitle, color: "#000",
              font: { family: SANS, size: 17.5, lineHeight: 1.2 },
              padding: { top: 0, bottom: 0 },
            },
          },
          y: {
            type: "linear",
            min: p.yMin,
            max: p.yMax,
            afterBuildTicks: (s: any) => { s.ticks = yTicks.map((v: number) => ({ value: v })); },
            afterFit: (s: any) => { s.width = p.area.left; },
            grid: {
              color: GRID,
              lineWidth: (c: any) => (c.tick && isIn(p.yMajor, c.tick.value) ? 1.2 : 0.6),
              drawTicks: false,
            },
            border: { display: false },
            ticks: {
              autoSkip: false, padding: 8, color: TICK,
              font: { family: SANS, size: 14 },
              callback: (v: any) => (isIn(p.yMajor, Number(v)) ? fmt(Number(v), p.dec) : ""),
            },
            title: {
              display: true, text: p.yTitle, color: "#000",
              font: { family: SANS, size: 17, lineHeight: 1.1 },
              padding: { top: 9, bottom: 0 },
            },
          },
        },
      } as any,
      plugins: [overlay],
    });
    return () => chart.destroy();
  }, []);
  return (
    <canvas
      ref={ref}
      width={p.canvas.width}
      height={p.canvas.height}
      style={{ position: "absolute", left: p.canvas.left, top: p.canvas.top, width: p.canvas.width, height: p.canvas.height }}
    />
  );
}

function Title({ p }: { p: Panel }) {
  return (
    <div
      style={{
        position: "absolute", left: p.titleCenter - 300, top: p.titleY - 18, width: 600, height: 36,
        textAlign: "center", fontFamily: SERIF, fontSize: 29.5, fontWeight: 700, lineHeight: "36px",
        color: "#000", whiteSpace: "nowrap",
      }}
    >
      <span>{p.letter} </span>
      <span style={{ fontVariant: "small-caps" }}>dv:</span>
      <span style={{ fontWeight: 400 }}> {"\u0394"} log </span>
      {p.dv.map((d: [string, boolean], i: number) => (
        <span key={i} style={{ fontWeight: d[1] ? 700 : 400, whiteSpace: "pre" }}>{d[0]}</span>
      ))}
    </div>
  );
}

function LegendKey({ color, left, top }: { color: string; left: number; top: number }) {
  return (
    <div style={{ position: "absolute", left, top: top - 4, width: 17, height: 8 }}>
      <div style={{ position: "absolute", left: 0, top: 3.3, width: 17, height: 1.4, background: color }} />
      <div style={{ position: "absolute", left: 5.5, top: 1, width: 6, height: 6, borderRadius: 3, background: color }} />
    </div>
  );
}

function Legend({ p }: { p: Panel }) {
  const textStyle: any = {
    position: "absolute", top: p.legendY - 9, height: 18, lineHeight: "18px",
    fontFamily: SANS, fontSize: 14, color: "#1A1A1A", whiteSpace: "nowrap",
  };
  return (
    <>
      <LegendKey color={TEAL} left={p.legendLeft} top={p.legendY} />
      <div style={{ ...textStyle, left: p.legendLeft + 26.7 }}>{legendLabels[0]}</div>
      <LegendKey color={RED} left={p.legendLeft + 118} top={p.legendY} />
      <div style={{ ...textStyle, left: p.legendLeft + 145 }}>{legendLabels[1]}</div>
    </>
  );
}

export default function App() {
  return (
    <div style={{ position: "absolute", left: 0, top: 0, width: 1198, height: 981, background: "#fff", overflow: "hidden" }}>
      {panels.map((p, i) => (
        <React.Fragment key={i}>
          <Title p={p} />
          <PanelChart p={p} />
          <Legend p={p} />
        </React.Fragment>
      ))}
    </div>
  );
}
